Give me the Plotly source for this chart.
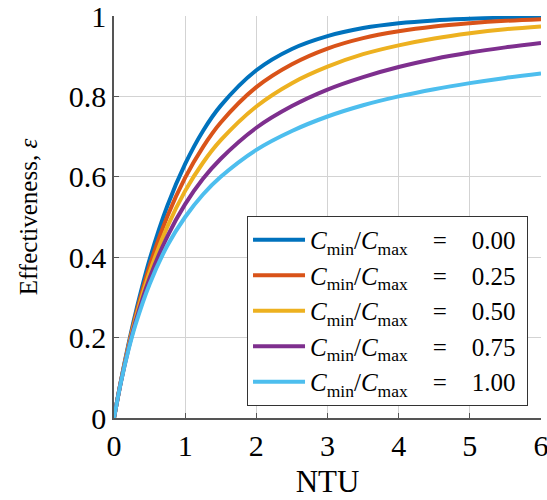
import plotly.graph_objects as go

ntu = [0, 0.1, 0.2, 0.3, 0.5, 0.75, 1, 1.25, 1.5, 2, 2.5, 3, 3.5, 4, 4.5, 5, 5.5, 6]
eps_000 = [0, 0.095, 0.181, 0.259, 0.394, 0.528, 0.632, 0.714, 0.777, 0.865, 0.918, 0.950, 0.970, 0.982, 0.989, 0.993, 0.996, 0.998]
eps_025 = [0, 0.094, 0.177, 0.252, 0.378, 0.502, 0.598, 0.674, 0.735, 0.823, 0.880, 0.919, 0.945, 0.962, 0.974, 0.982, 0.988, 0.992]
eps_050 = [0, 0.093, 0.174, 0.245, 0.362, 0.476, 0.565, 0.635, 0.691, 0.775, 0.833, 0.874, 0.905, 0.927, 0.944, 0.957, 0.967, 0.974]
eps_075 = [0, 0.092, 0.170, 0.238, 0.348, 0.452, 0.532, 0.595, 0.645, 0.722, 0.776, 0.817, 0.848, 0.873, 0.893, 0.909, 0.922, 0.933]
eps_100 = [0, 0.091, 0.167, 0.231, 0.333, 0.429, 0.500, 0.556, 0.600, 0.667, 0.714, 0.750, 0.778, 0.800, 0.818, 0.833, 0.846, 0.857]

series = [
    ("0.00", eps_000, "#0072BD"),
    ("0.25", eps_025, "#D95319"),
    ("0.50", eps_050, "#EDB120"),
    ("0.75", eps_075, "#7E2F8E"),
    ("1.00", eps_100, "#4DBEEE"),
]

x_ticks = [0, 1, 2, 3, 4, 5, 6]
y_ticks = [0, 0.2, 0.4, 0.6, 0.8, 1]
y_tick_text = ["0", "0.2", "0.4", "0.6", "0.8", "1"]

FONT = "Liberation Serif"

fig = go.Figure()
for cr, vals, col in series:
    fig.add_trace(go.Scatter(
        x=ntu, y=vals, mode="lines",
        line=dict(color=col, width=4, shape="spline", smoothing=1.0),
        name=(f"<i>C</i><sub>min</sub>/<i>C</i><sub>max</sub>"
              f"&nbsp;&nbsp;&nbsp;&nbsp;=&nbsp;&nbsp;&nbsp;&nbsp;{cr}&nbsp;"),
    ))

axis_common = dict(
    showgrid=True, gridcolor="#d3d3d3", gridwidth=1,
    showline=True, linecolor="#555555", linewidth=1.5,
    ticks="inside", ticklen=5, tickcolor="#555555",
    zeroline=False, mirror=False,
    automargin=False,
    ticklabeloverflow="allow",
    tickfont=dict(family=FONT, size=30, color="#000"),
)

fig.update_layout(
    width=547, height=500,
    margin=dict(l=114, r=6, t=16, b=82),
    paper_bgcolor="white", plot_bgcolor="white",
    font=dict(family=FONT, color="#000"),
    xaxis=dict(range=[0, 6], tickvals=x_ticks, ticktext=[str(v) for v in x_ticks],
               title=dict(text="NTU", font=dict(family=FONT, size=31), standoff=10),
               **axis_common),
    yaxis=dict(range=[0, 1], tickvals=y_ticks, ticktext=y_tick_text,
               title=dict(text="Effectiveness, <i>ε</i>", font=dict(family=FONT, size=25), standoff=24),
               **axis_common),
    legend=dict(x=0.9696, y=0.03, xanchor="right", yanchor="bottom",
                bgcolor="white", bordercolor="#333", borderwidth=1,
                font=dict(family=FONT, size=25, color="#000"),
                itemwidth=52,
                tracegroupgap=0),
    showlegend=True,
)

fig.write_html("out.html")
